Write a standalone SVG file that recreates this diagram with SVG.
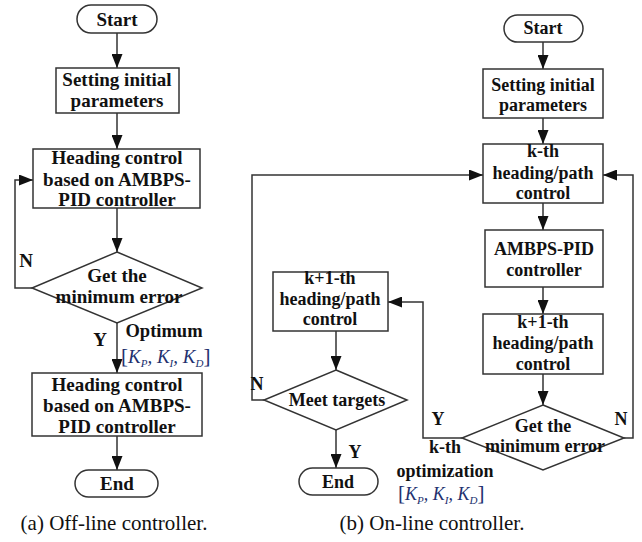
<svg xmlns="http://www.w3.org/2000/svg" width="642" height="542" viewBox="0 0 642 542">
<style>
.sh{fill:#fff;stroke:#333;stroke-width:1.5}
.ln{fill:none;stroke:#333;stroke-width:1.5}
.t{font-family:"Liberation Serif","Times New Roman",serif;font-weight:bold;font-size:19px;text-anchor:middle;fill:#111}
.r{font-size:18px}
.lb{font-family:"Liberation Serif","Times New Roman",serif;font-weight:bold;font-size:19px;text-anchor:middle;fill:#111}
.cap{font-family:"Liberation Serif","Times New Roman",serif;font-size:21px;text-anchor:middle;fill:#111}
.m{font-family:"Liberation Serif","Times New Roman",serif;font-style:italic;font-size:19px;fill:#22306e}
.br{font-style:normal;font-size:21px}
.sub{font-size:11px}
</style>
<defs>
<marker id="ah" markerUnits="userSpaceOnUse" markerWidth="14" markerHeight="11" refX="14" refY="5.5" orient="auto">
<path d="M0,0 L14,5.5 L0,11 Z" fill="#111"/>
</marker>
</defs>

<g id="connectors">
<path class="ln" d="M117,33 V68" marker-end="url(#ah)"/>
<path class="ln" d="M117,113 V149" marker-end="url(#ah)"/>
<path class="ln" d="M117,208 V252" marker-end="url(#ah)"/>
<path class="ln" d="M32,288 H15 V180 H33" marker-end="url(#ah)"/>
<path class="ln" d="M117,323 V373" marker-end="url(#ah)"/>
<path class="ln" d="M117,436 V470" marker-end="url(#ah)"/>
<path class="ln" d="M543,42 V69" marker-end="url(#ah)"/>
<path class="ln" d="M543,118 V144" marker-end="url(#ah)"/>
<path class="ln" d="M543,203 V230" marker-end="url(#ah)"/>
<path class="ln" d="M543,287 V314" marker-end="url(#ah)"/>
<path class="ln" d="M543,374 V405" marker-end="url(#ah)"/>
<path class="ln" d="M624,438 H633 V175 H603" marker-end="url(#ah)"/>
<path class="ln" d="M462,438 H423 V302 H388" marker-end="url(#ah)"/>
<path class="ln" d="M336,331 V370" marker-end="url(#ah)"/>
<path class="ln" d="M264,400 H252 V175 H483" marker-end="url(#ah)"/>
<path class="ln" d="M336,430 V468" marker-end="url(#ah)"/>
</g>

<g id="a-start">
<rect class="sh" x="77" y="5" width="80" height="28" rx="14"/>
<text class="t" x="117" y="26">Start</text>
</g>
<g id="a-init">
<rect class="sh" x="56" y="68" width="123" height="45"/>
<text class="t" x="117" y="86">Setting initial</text>
<text class="t" x="117" y="107">parameters</text>
</g>
<g id="a-heading1">
<rect class="sh" x="33" y="149" width="167" height="59"/>
<text class="t" x="117" y="164">Heading control</text>
<text class="t" x="117" y="186">based on AMBPS-</text>
<text class="t" x="117" y="206">PID controller</text>
</g>
<g id="a-decision">
<polygon class="sh" points="117,252 202,288 117,323 32,288"/>
<text class="t" x="117" y="282">Get the</text>
<text class="t" x="119" y="303">minimum error</text>
</g>
<g id="a-heading2">
<rect class="sh" x="32" y="373" width="170" height="63"/>
<text class="t" x="117" y="391">Heading control</text>
<text class="t" x="117" y="412">based on AMBPS-</text>
<text class="t" x="117" y="433">PID controller</text>
</g>
<g id="a-end">
<rect class="sh" x="75" y="470" width="83" height="27" rx="13.5"/>
<text class="t" x="117" y="490">End</text>
</g>
<g id="a-labels">
<text class="lb" x="26" y="267">N</text>
<text class="lb" x="100" y="346">Y</text>
<text class="lb" x="164" y="337" style="font-size:18.5px">Optimum</text>
<text class="m" x="121" y="363"><tspan class="br">[</tspan>K<tspan class="sub" dy="4">P</tspan><tspan dy="-4">, </tspan>K<tspan class="sub" dy="4">I</tspan><tspan dy="-4">, </tspan>K<tspan class="sub" dy="4">D</tspan><tspan class="br" dy="-4">]</tspan></text>
</g>

<g id="b-start">
<rect class="sh" x="504" y="15" width="79" height="27" rx="13.5"/>
<text class="t r" x="543" y="34">Start</text>
</g>
<g id="b-init">
<rect class="sh" x="483" y="69" width="120" height="49"/>
<text class="t r" x="543" y="91">Setting initial</text>
<text class="t r" x="543" y="111">parameters</text>
</g>
<g id="b-kth">
<rect class="sh" x="483" y="144" width="120" height="59"/>
<text class="t r" x="543" y="157">k-th</text>
<text class="t r" x="543" y="179">heading/path</text>
<text class="t r" x="543" y="199">control</text>
</g>
<g id="b-ambps">
<rect class="sh" x="485" y="230" width="118" height="57"/>
<text class="t r" x="544" y="255">AMBPS-PID</text>
<text class="t r" x="544" y="276">controller</text>
</g>
<g id="b-k1th">
<rect class="sh" x="483" y="314" width="120" height="60"/>
<text class="t r" x="543" y="328">k+1-th</text>
<text class="t r" x="543" y="349">heading/path</text>
<text class="t r" x="543" y="370">control</text>
</g>
<g id="b-decision">
<polygon class="sh" points="543,405 624,438 543,470 462,438"/>
<text class="t r" x="543" y="432">Get the</text>
<text class="t r" x="545" y="452">minimum error</text>
</g>
<g id="b-k1th-mid">
<rect class="sh" x="273" y="272" width="115" height="59"/>
<text class="t r" x="330" y="284">k+1-th</text>
<text class="t r" x="330" y="305">heading/path</text>
<text class="t r" x="330" y="325">control</text>
</g>
<g id="b-meet">
<polygon class="sh" points="336,370 407,400 336,430 264,400"/>
<text class="t r" x="337" y="406">Meet targets</text>
</g>
<g id="b-end">
<rect class="sh" x="299" y="468" width="79" height="27" rx="13.5"/>
<text class="t r" x="338" y="488">End</text>
</g>
<g id="b-labels">
<text class="lb" x="257" y="390" style="font-size:18px">N</text>
<text class="lb" x="355" y="458" style="font-size:18px">Y</text>
<text class="lb" x="438" y="425" style="font-size:18px">Y</text>
<text class="lb" x="621" y="425" style="font-size:18px">N</text>
<text class="lb" x="445" y="453" style="font-size:18px">k-th</text>
<text class="lb" x="445" y="477" style="font-size:18px">optimization</text>
<text class="m" x="398" y="500" style="font-size:18px"><tspan class="br">[</tspan>K<tspan class="sub" dy="4">P</tspan><tspan dy="-4">, </tspan>K<tspan class="sub" dy="4">I</tspan><tspan dy="-4">, </tspan>K<tspan class="sub" dy="4">D</tspan><tspan class="br" dy="-4">]</tspan></text>
</g>

<g id="captions">
<text class="cap" x="114" y="530">(a) Off-line controller.</text>
<text class="cap" x="432" y="530">(b) On-line controller.</text>
</g>
</svg>
